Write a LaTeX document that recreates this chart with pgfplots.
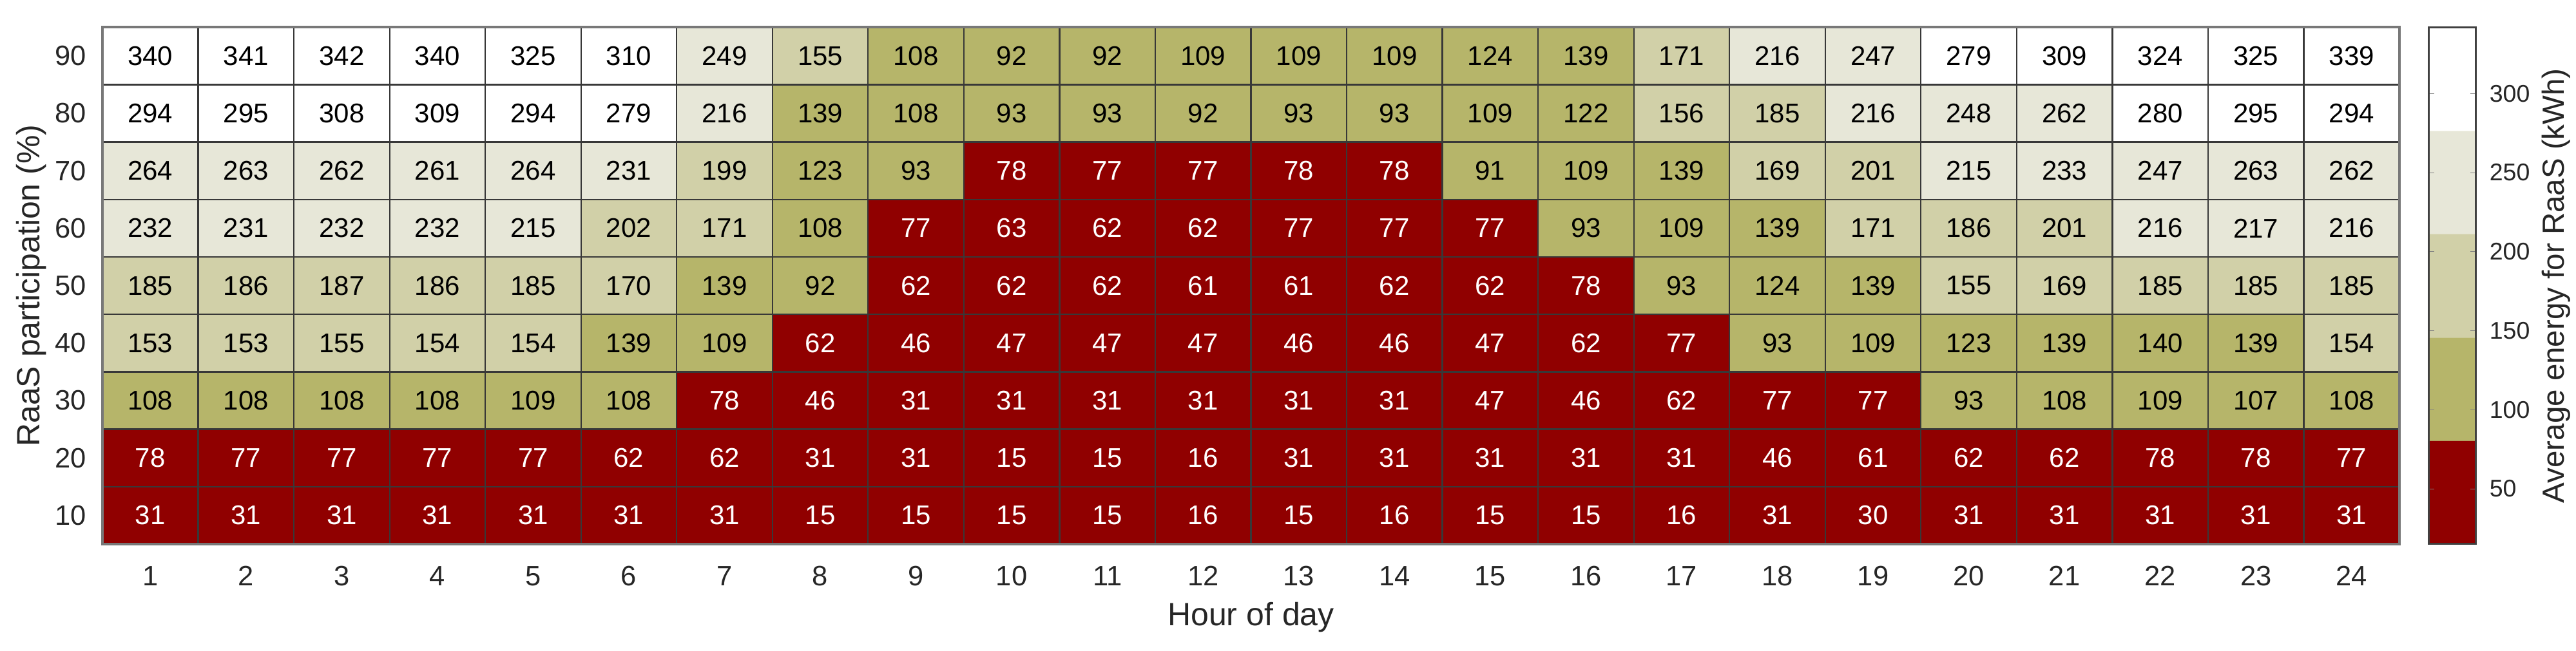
\documentclass[border=0pt]{standalone}
\usepackage{fontspec}
\setmainfont{Liberation Sans}
\usepackage{pgfplots}
\usepackage{pgfplotstable}
\pgfplotsset{compat=1.18}
\definecolor{txt}{RGB}{38,38,38}
\definecolor{framegray}{RGB}{120,120,120}
\pgfplotstableread[row sep=\\]{
x y v\\
1 10 31\\ 2 10 31\\ 3 10 31\\ 4 10 31\\ 5 10 31\\ 6 10 31\\ 7 10 31\\ 8 10 15\\ 9 10 15\\ 10 10 15\\ 11 10 15\\ 12 10 16\\ 13 10 15\\ 14 10 16\\ 15 10 15\\ 16 10 15\\ 17 10 16\\ 18 10 31\\ 19 10 30\\ 20 10 31\\ 21 10 31\\ 22 10 31\\ 23 10 31\\ 24 10 31\\
1 20 78\\ 2 20 77\\ 3 20 77\\ 4 20 77\\ 5 20 77\\ 6 20 62\\ 7 20 62\\ 8 20 31\\ 9 20 31\\ 10 20 15\\ 11 20 15\\ 12 20 16\\ 13 20 31\\ 14 20 31\\ 15 20 31\\ 16 20 31\\ 17 20 31\\ 18 20 46\\ 19 20 61\\ 20 20 62\\ 21 20 62\\ 22 20 78\\ 23 20 78\\ 24 20 77\\
1 30 108\\ 2 30 108\\ 3 30 108\\ 4 30 108\\ 5 30 109\\ 6 30 108\\ 7 30 78\\ 8 30 46\\ 9 30 31\\ 10 30 31\\ 11 30 31\\ 12 30 31\\ 13 30 31\\ 14 30 31\\ 15 30 47\\ 16 30 46\\ 17 30 62\\ 18 30 77\\ 19 30 77\\ 20 30 93\\ 21 30 108\\ 22 30 109\\ 23 30 107\\ 24 30 108\\
1 40 153\\ 2 40 153\\ 3 40 155\\ 4 40 154\\ 5 40 154\\ 6 40 139\\ 7 40 109\\ 8 40 62\\ 9 40 46\\ 10 40 47\\ 11 40 47\\ 12 40 47\\ 13 40 46\\ 14 40 46\\ 15 40 47\\ 16 40 62\\ 17 40 77\\ 18 40 93\\ 19 40 109\\ 20 40 123\\ 21 40 139\\ 22 40 140\\ 23 40 139\\ 24 40 154\\
1 50 185\\ 2 50 186\\ 3 50 187\\ 4 50 186\\ 5 50 185\\ 6 50 170\\ 7 50 139\\ 8 50 92\\ 9 50 62\\ 10 50 62\\ 11 50 62\\ 12 50 61\\ 13 50 61\\ 14 50 62\\ 15 50 62\\ 16 50 78\\ 17 50 93\\ 18 50 124\\ 19 50 139\\ 20 50 155\\ 21 50 169\\ 22 50 185\\ 23 50 185\\ 24 50 185\\
1 60 232\\ 2 60 231\\ 3 60 232\\ 4 60 232\\ 5 60 215\\ 6 60 202\\ 7 60 171\\ 8 60 108\\ 9 60 77\\ 10 60 63\\ 11 60 62\\ 12 60 62\\ 13 60 77\\ 14 60 77\\ 15 60 77\\ 16 60 93\\ 17 60 109\\ 18 60 139\\ 19 60 171\\ 20 60 186\\ 21 60 201\\ 22 60 216\\ 23 60 217\\ 24 60 216\\
1 70 264\\ 2 70 263\\ 3 70 262\\ 4 70 261\\ 5 70 264\\ 6 70 231\\ 7 70 199\\ 8 70 123\\ 9 70 93\\ 10 70 78\\ 11 70 77\\ 12 70 77\\ 13 70 78\\ 14 70 78\\ 15 70 91\\ 16 70 109\\ 17 70 139\\ 18 70 169\\ 19 70 201\\ 20 70 215\\ 21 70 233\\ 22 70 247\\ 23 70 263\\ 24 70 262\\
1 80 294\\ 2 80 295\\ 3 80 308\\ 4 80 309\\ 5 80 294\\ 6 80 279\\ 7 80 216\\ 8 80 139\\ 9 80 108\\ 10 80 93\\ 11 80 93\\ 12 80 92\\ 13 80 93\\ 14 80 93\\ 15 80 109\\ 16 80 122\\ 17 80 156\\ 18 80 185\\ 19 80 216\\ 20 80 248\\ 21 80 262\\ 22 80 280\\ 23 80 295\\ 24 80 294\\
1 90 340\\ 2 90 341\\ 3 90 342\\ 4 90 340\\ 5 90 325\\ 6 90 310\\ 7 90 249\\ 8 90 155\\ 9 90 108\\ 10 90 92\\ 11 90 92\\ 12 90 109\\ 13 90 109\\ 14 90 109\\ 15 90 124\\ 16 90 139\\ 17 90 171\\ 18 90 216\\ 19 90 247\\ 20 90 279\\ 21 90 309\\ 22 90 324\\ 23 90 325\\ 24 90 339\\
}\datatable
\begin{document}
\begin{tikzpicture}
\useasboundingbox (0,0) rectangle (799.6pt,202.2pt);
\begin{axis}[
  at={(31.8pt,33.2pt)}, anchor=south west,
  scale only axis, width=713pt, height=160.56pt,
  xmin=0.5, xmax=24.5, ymin=5, ymax=95,
  xtick={1,...,24}, ytick={10,20,...,90},
  minor xtick={1.5,2.5,...,23.5}, minor ytick={15,25,...,85},
  xminorgrids, yminorgrids,
  minor grid style={draw=black!78, line width=0.45pt},
  major tick length=0pt, minor tick length=0pt,
  axis on top,
  axis line style={draw=framegray, line width=0.7pt},
  /pgf/number format/assume math mode=true,
  ticklabel style={font=\fontsize{8.7}{10}\selectfont, text=txt},
  xticklabel style={yshift=-3.3pt},
  yticklabel style={xshift=-1.5pt},
  xlabel={Hour of day}, ylabel={RaaS participation (\%)},
  every axis x label/.style={at={(axis description cs:0.5,-0.142)}, anchor=center, font=\fontsize{10}{12}\selectfont, text=txt},
  every axis y label/.style={at={(axis description cs:-0.0309,0.5)}, anchor=center, rotate=90, font=\fontsize{10}{12}\selectfont, text=txt},
  colormap={raas}{rgb255(0)=(144,0,0) rgb255(999)=(144,0,0) rgb255(1000)=(182,181,106) rgb255(1999)=(182,181,106) rgb255(2000)=(209,208,168) rgb255(2999)=(209,208,168) rgb255(3000)=(231,231,216) rgb255(3999)=(231,231,216) rgb255(4000)=(255,255,255) rgb255(5000)=(255,255,255)},
  point meta min=15, point meta max=342,
  colorbar,
  colorbar style={
    at={(parent axis.north east)}, anchor=north west, xshift=0.6pt,
    width=14.6pt,
    ytick={50,100,...,300},
    major tick length=1.7pt, tick align=inside,
    axis line style={draw=black!75, line width=0.6pt},
    /pgf/number format/assume math mode=true,
    yticklabel style={font=\fontsize{7.5}{9}\selectfont, text=txt, xshift=0.7pt},
    ylabel={Average energy for RaaS (kWh)},
    every axis y label/.style={at={(axis description cs:2.70,0.5)}, anchor=center, rotate=90, font=\fontsize{9.5}{11}\selectfont, text=txt},
  },
]
\addplot[matrix plot*, mesh/cols=24, point meta=explicit] table[x=x, y=y, meta=v]{\datatable};
\addplot[draw=none, mark=none, point meta=explicit,
  restrict expr to domain={\thisrow{v}}{0:80},
  nodes near coords,
  every node near coord/.append style={anchor=center, inner sep=0pt, font=\fontsize{8.4}{10}\selectfont, text=white}]
  table[x=x, y=y, meta=v]{\datatable};
\addplot[draw=none, mark=none, point meta=explicit,
  restrict expr to domain={\thisrow{v}}{80:400},
  nodes near coords,
  every node near coord/.append style={anchor=center, inner sep=0pt, font=\fontsize{8.4}{10}\selectfont, text=black}]
  table[x=x, y=y, meta=v]{\datatable};
\end{axis}
\end{tikzpicture}
\end{document}
